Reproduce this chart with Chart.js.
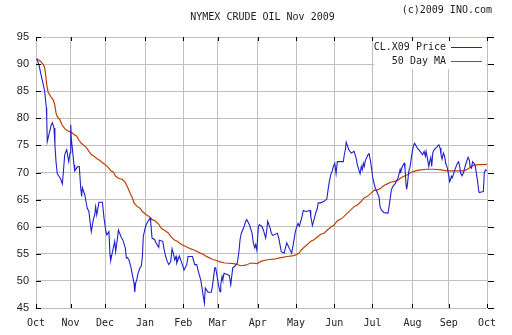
<!DOCTYPE html>
<html><head><meta charset="utf-8">
<script src="https://cdn.jsdelivr.net/npm/chart.js@4/dist/chart.umd.min.js"></script>
<style>html,body{margin:0;padding:0;background:#fff}#wrap{width:512px;height:335px;position:relative}</style>
</head><body><div id="wrap"><canvas id="c" width="512" height="335"></canvas></div>
<script>
const chartTitle = 'NYMEX CRUDE OIL Nov 2009';
const creditText = '(c)2009 INO.com';
const seriesNames = ['CL.X09 Price', '50 Day MA'];
const monthLabels = ['Oct','Nov','Dec','Jan','Feb','Mar','Apr','May','Jun','Jul','Aug','Sep','Oct'];
const monthDays = [0,19,38,60,81,100,122,143,164,185,207,227,248];
const yTicks = [45,50,55,60,65,70,75,80,85,90,95];

const priceDays = [0.4,1.6,2.6,4.0,4.8,5.7,5.9,6.2,7.1,8.4,9.0,9.9,10.4,11.0,11.7,12.6,13.6,14.5,15.0,15.8,16.9,18.0,18.7,19.1,19.4,20.9,21.3,22.7,23.8,24.6,25.1,25.5,26.8,27.5,28.2,29.1,29.7,30.4,31.5,32.3,32.8,33.4,34.6,36.5,37.4,38.3,38.9,40.1,40.7,41.1,42.5,43.3,43.8,44.7,45.3,46.9,47.7,49.1,49.7,50.2,51.1,52.1,53.0,53.9,54.3,54.8,55.4,56.1,57.2,57.9,58.5,59.0,59.8,60.5,61.6,62.7,63.1,63.8,65.3,66.0,67.5,67.8,69.7,70.4,71.3,72.2,73.0,74.1,74.8,75.5,76.3,77.0,77.4,78.8,80.5,81.4,82.9,83.6,86.0,87.3,88.4,89.1,89.8,90.6,91.3,92.0,92.6,93.1,94.6,96.4,97.0,98.3,98.8,99.9,100.5,101.2,101.6,102.3,102.7,103.4,106.3,107.1,107.6,108.2,109.3,110.7,111.5,112.2,112.9,114.4,115.3,115.9,117.3,118.8,119.5,120.3,120.8,121.4,122.3,122.8,124.3,125.0,125.8,126.3,126.9,127.4,128.7,129.4,130.2,132.7,133.5,134.2,134.9,136.4,137.1,137.9,139.3,140.6,141.9,142.6,143.4,144.1,144.8,145.6,146.3,147.0,148.5,150.7,151.1,152.0,152.9,153.8,154.7,155.2,156.5,158.4,159.9,160.6,161.3,162.1,162.8,163.5,164.3,165.0,165.7,169.0,169.4,170.1,170.6,172.0,173.4,174.9,176.0,176.7,178.2,178.9,179.4,180.0,180.5,181.1,182.6,183.1,184.0,184.6,185.2,185.9,186.6,187.4,188.6,189.2,189.9,191.4,193.6,194.7,195.4,196.2,197.6,199.1,200.2,200.5,200.9,201.6,202.4,202.9,203.5,203.8,204.2,205.0,205.7,206.4,206.9,207.5,208.2,209.7,211.2,212.6,213.4,214.1,214.5,215.2,216.0,216.5,217.1,217.6,218.2,218.9,220.7,221.5,222.2,222.7,223.3,224.0,224.7,225.3,226.2,226.9,227.5,228.0,228.4,228.9,229.5,230.2,231.7,232.4,233.0,233.5,234.3,235.0,235.7,236.5,237.6,238.3,238.7,239.4,240.1,240.9,241.6,242.0,242.7,243.5,243.8,244.9,246.0,246.5,247.1,248.0];
const priceValues = [91.0,89.9,88.3,86.2,84.9,81.9,80.0,75.7,77.0,78.8,79.2,78.2,75.1,72.0,69.8,69.3,68.8,67.9,69.9,73.3,74.2,72.0,73.6,78.8,76.3,71.4,70.3,71.0,71.1,67.1,65.6,67.2,65.9,64.6,63.4,62.8,61.0,59.1,61.3,62.2,63.7,62.2,64.5,64.5,61.6,59.4,58.5,59.1,54.8,53.8,56.1,57.3,55.4,57.6,59.4,58.0,57.6,56.1,54.2,54.3,53.9,52.7,51.1,49.6,47.9,49.6,50.2,51.4,52.4,52.7,54.5,58.2,59.4,60.3,61.0,61.6,60.7,57.9,57.6,57.0,56.2,57.5,57.3,55.9,54.5,53.6,53.0,53.6,55.9,55.1,53.9,54.5,53.3,54.6,53.0,52.0,53.0,54.5,54.5,53.0,53.0,52.0,51.1,50.2,48.7,47.1,45.9,48.7,47.9,47.9,49.0,52.4,52.4,50.2,49.0,48.0,49.3,50.8,50.2,51.4,51.0,49.3,50.8,52.4,52.7,53.3,55.1,57.6,58.8,60.0,61.0,61.3,60.4,58.8,57.0,56.1,56.7,55.7,60.0,60.4,60.0,59.4,58.5,57.9,59.4,61.0,59.8,58.8,58.4,58.8,57.9,56.6,55.4,55.1,56.0,57.0,56.0,55.1,57.6,59.1,60.0,60.6,60.1,61.0,61.9,63.0,62.8,63.0,61.9,60.2,61.3,62.5,63.4,64.4,64.4,64.7,65.1,66.8,68.3,69.6,70.2,71.1,71.7,69.8,72.0,72.0,73.0,74.2,75.6,74.2,73.6,73.9,72.7,71.4,69.8,71.1,70.5,71.7,71.1,72.2,73.3,73.6,72.0,70.5,69.0,68.0,67.1,66.5,65.5,63.7,63.1,62.6,62.5,65.0,66.8,67.4,68.0,69.0,70.5,69.9,70.6,71.2,71.7,70.8,67.7,66.9,67.7,70.2,71.1,72.7,73.9,74.8,75.4,74.5,73.9,73.3,73.9,73.0,73.9,72.7,71.1,72.0,72.8,71.1,73.6,74.2,74.8,75.1,74.5,73.3,72.5,73.6,73.0,71.7,70.8,69.6,68.3,68.7,69.3,69.0,69.6,70.4,71.7,72.0,71.1,69.9,69.4,69.9,70.8,71.7,72.8,72.3,71.1,70.8,72.0,71.7,71.1,70.2,68.7,66.5,66.3,66.4,66.5,69.9,70.5,70.3];

const maDays = [0.4,2.6,4.0,4.8,5.3,5.9,6.6,8.1,9.5,10.3,11.0,11.7,13.2,14.3,15.8,17.2,19.1,20.9,22.4,23.6,24.9,26.4,27.9,29.1,30.4,31.9,33.7,35.2,36.5,38.3,39.6,41.1,42.5,43.8,45.6,47.5,48.8,49.9,50.6,51.7,53.0,53.9,55.7,57.2,58.5,60.3,62.1,64.0,65.8,67.6,68.9,70.4,72.6,74.1,75.9,77.7,79.6,81.4,83.2,85.1,86.9,88.7,90.6,92.0,93.3,95.1,97.0,98.8,101.2,104.0,108.9,112.6,115.3,118.1,121.7,123.6,127.2,130.9,134.6,138.2,140.9,142.8,144.6,145.9,147.4,149.2,151.1,152.9,154.7,156.6,158.4,160.2,162.1,163.9,165.7,167.6,169.4,171.2,173.1,174.9,176.7,178.6,180.4,182.2,184.0,185.9,187.7,189.6,191.4,193.2,195.1,198.7,200.5,202.4,204.2,206.1,207.9,209.7,211.5,215.2,218.9,222.5,226.2,235.4,237.2,238.1,240.9,248.0];
const maValues = [91.0,90.5,89.9,89.3,88.0,86.2,84.9,84.0,83.4,82.5,81.0,80.3,79.7,78.8,78.1,77.7,77.5,77.0,76.7,76.0,75.4,75.0,74.5,73.9,73.3,73.0,72.5,72.2,71.8,71.4,71.0,70.3,70.1,69.3,68.9,68.7,68.3,67.6,67.1,66.2,65.3,64.4,63.7,63.4,62.8,62.3,61.9,61.3,61.0,60.4,59.7,59.4,58.9,58.2,57.6,57.3,56.8,56.5,56.2,55.9,55.7,55.4,55.1,54.9,54.6,54.3,54.0,53.8,53.5,53.3,53.2,52.8,52.9,53.3,53.2,53.6,53.9,54.0,54.3,54.5,54.6,54.8,55.1,55.7,56.2,56.7,57.3,57.6,58.1,58.6,58.8,59.4,59.9,60.3,61.1,61.4,61.9,62.5,63.1,63.7,64.0,64.6,65.3,65.6,66.1,66.7,66.8,67.1,67.6,67.9,68.2,68.5,69.0,69.3,69.6,70.0,70.2,70.4,70.5,70.6,70.6,70.5,70.3,70.3,70.6,70.8,71.4,71.5];

const priceColor = '#2020cc';
const maColor = '#c04000';
const gridColor = '#c0c0c0';
const MONO = '"DejaVu Sans Mono", monospace';

const toXY = (xs, ys) => xs.map((x, i) => ({x: x, y: ys[i]}));

const decor = {
  id: 'decor',
  afterDraw(chart) {
    const ctx = chart.ctx;
    const a = chart.chartArea;
    const xs = chart.scales.x, ys = chart.scales.y;
    ctx.save();
    ctx.fillStyle = '#222';
    ctx.font = '10px ' + MONO;
    ctx.textBaseline = 'middle';
    ctx.textAlign = 'center';
    ctx.fillText(chartTitle, (a.left + a.right) / 2 + 1, 17);
    ctx.textAlign = 'right';
    ctx.fillText(creditText, 492, 10);
    ctx.fillStyle = '#fff';
    ctx.fillRect(374, 38, 112, 31);
    ctx.fillStyle = '#222';
    ctx.textAlign = 'right';
    ctx.fillText(seriesNames[0], 446, 47);
    ctx.fillText(seriesNames[1], 446, 61);
    ctx.lineWidth = 1;
    ctx.strokeStyle = priceColor;
    ctx.beginPath(); ctx.moveTo(451, 47.5); ctx.lineTo(482, 47.5); ctx.stroke();
    ctx.strokeStyle = maColor;
    ctx.beginPath(); ctx.moveTo(451, 61.5); ctx.lineTo(482, 61.5); ctx.stroke();
    ctx.strokeStyle = '#000';
    ctx.beginPath();
    yTicks.forEach(v => {
      const y = Math.round(ys.getPixelForValue(v)) + 0.5;
      ctx.moveTo(a.left, y); ctx.lineTo(a.left + 5, y);
      ctx.moveTo(a.right + 1, y); ctx.lineTo(a.right + 7, y);
    });
    monthDays.forEach(d => {
      const x = Math.round(xs.getPixelForValue(d)) + 0.5;
      ctx.moveTo(x, a.top); ctx.lineTo(x, a.top + 4);
      ctx.moveTo(x, a.bottom); ctx.lineTo(x, a.bottom - 4);
    });
    ctx.stroke();
    ctx.restore();
  }
};

new Chart(document.getElementById('c'), {
  type: 'line',
  data: {
    datasets: [
      {label: seriesNames[0], data: toXY(priceDays, priceValues), borderColor: priceColor, borderWidth: 1.1, pointRadius: 0, tension: 0, fill: false},
      {label: seriesNames[1], data: toXY(maDays, maValues), borderColor: maColor, borderWidth: 1.2, pointRadius: 0, tension: 0, fill: false}
    ]
  },
  options: {
    responsive: false,
    animation: false,
    devicePixelRatio: 1,
    layout: {padding: {top: 37, right: 25, left: 0, bottom: 0}},
    plugins: {legend: {display: false}, tooltip: {enabled: false}, title: {display: false}},
    scales: {
      x: {
        type: 'linear', min: 0, max: 248,
        afterBuildTicks: s => { s.ticks = monthDays.map(v => ({value: v})); },
        afterFit: s => { s.height = 27; },
        ticks: {autoSkip: false, maxRotation: 0, color: '#222', font: {family: MONO, size: 10}, padding: 9,
          callback: (v) => monthLabels[monthDays.indexOf(v)]},
        grid: {color: gridColor, drawTicks: false, lineWidth: 1},
        border: {display: false}
      },
      y: {
        min: 45, max: 95,
        afterBuildTicks: s => { s.ticks = yTicks.map(v => ({value: v})); },
        afterFit: s => { s.width = 36; },
        ticks: {color: '#222', font: {family: 'Liberation Sans, Arial, sans-serif', size: 11}, padding: 7,
          callback: (v) => String(v)},
        grid: {color: gridColor, drawTicks: false, lineWidth: 1},
        border: {display: false}
      }
    }
  },
  plugins: [decor]
});
</script></body></html>
